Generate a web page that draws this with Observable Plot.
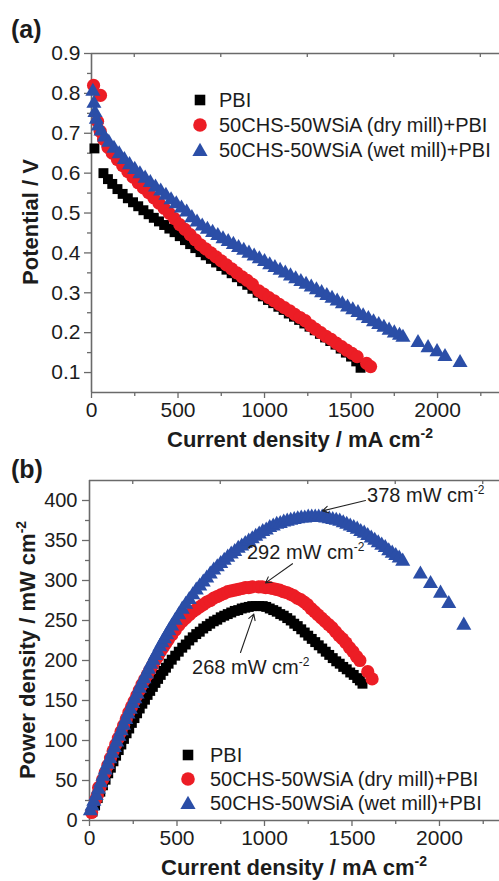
<!DOCTYPE html>
<html><head><meta charset="utf-8">
<script src="https://cdn.jsdelivr.net/npm/d3@7"></script>
<script src="https://cdn.jsdelivr.net/npm/@observablehq/plot@0.6"></script>
<style>
body{margin:0;background:#fff;}
#wrap{width:499px;height:881px;overflow:hidden;background:#fff;}
#wrap svg{display:block;}
</style></head><body><div id="wrap"></div>
<script>
// ---------- data ----------
const seriesNames = ["PBI", "50CHS-50WSiA (dry mill)+PBI", "50CHS-50WSiA (wet mill)+PBI"];
const seriesColors = ["#000000", "#ec1d25", "#2b4ea7"];
const seriesSymbols = ["square", "circle", "triangle"];

// panel (a): polarization curves (current density mA cm-2, potential V)
const pbiCurrentA = [17,69,95,120,150,180,210,240,270,300,330,360,390,420,450,480,510,540,570,600,630,660,690,720,750,780,810,840,870,900,930,960,990,1020,1050,1080,1110,1140,1170,1200,1230,1260,1290,1320,1350,1380,1410,1440,1470,1500,1530,1555];
const pbiVoltage = [0.662,0.600,0.585,0.573,0.560,0.548,0.537,0.527,0.517,0.507,0.497,0.488,0.479,0.470,0.461,0.452,0.442,0.432,0.422,0.412,0.402,0.394,0.385,0.376,0.367,0.358,0.349,0.339,0.329,0.320,0.310,0.300,0.291,0.282,0.274,0.265,0.257,0.248,0.240,0.232,0.223,0.215,0.206,0.197,0.188,0.179,0.170,0.160,0.150,0.140,0.128,0.112];

const dryCurrentA = [12,52,35,50,70,95,120,150,180,210,240,270,300,330,360,390,420,450,480,510,540,570,600,630,660,690,720,750,780,810,840,870,900,930,967,995,1025,1055,1085,1115,1145,1175,1205,1235,1266,1295,1325,1355,1385,1415,1445,1475,1505,1535,1590,1613];
const dryVoltage = [0.820,0.795,0.730,0.705,0.685,0.665,0.650,0.634,0.619,0.604,0.590,0.576,0.563,0.551,0.538,0.525,0.512,0.499,0.486,0.471,0.459,0.446,0.433,0.420,0.410,0.400,0.390,0.380,0.370,0.360,0.350,0.340,0.331,0.321,0.305,0.297,0.288,0.280,0.271,0.263,0.255,0.246,0.238,0.230,0.218,0.209,0.200,0.191,0.183,0.174,0.165,0.156,0.148,0.140,0.123,0.115];

const wetCurrentA = [8,14,20,28,40,55,75,100,130,160,190,220,250,280,310,340,370,400,430,460,490,520,550,580,610,640,670,700,730,760,790,820,850,880,910,940,970,1000,1030,1060,1090,1120,1150,1180,1210,1240,1270,1300,1330,1360,1390,1420,1450,1480,1510,1540,1570,1600,1630,1660,1690,1720,1750,1780,1800,1887,1945,1997,2043,2130];
const wetVoltage = [0.805,0.775,0.752,0.735,0.718,0.705,0.690,0.677,0.662,0.648,0.634,0.621,0.609,0.598,0.587,0.576,0.565,0.555,0.544,0.533,0.523,0.512,0.502,0.488,0.477,0.467,0.459,0.451,0.443,0.435,0.428,0.421,0.413,0.406,0.399,0.392,0.385,0.378,0.370,0.363,0.356,0.349,0.342,0.335,0.328,0.321,0.314,0.307,0.300,0.293,0.286,0.279,0.272,0.264,0.257,0.250,0.242,0.235,0.227,0.220,0.213,0.206,0.199,0.193,0.188,0.175,0.162,0.152,0.140,0.125];

// panel (b): power density curves (current density mA cm-2, power mW cm-2)
const pbiCurrentB = [17,32,47,62,77,92,107,122,137,152,167,182,197,212,227,242,257,272,287,302,317,332,347,362,377,392,407,422,437,452,470,490,510,530,550,570,590,610,630,650,670,690,710,730,750,770,790,810,830,850,870,890,910,930,950,970,990,1010,1030,1050,1070,1090,1110,1130,1150,1170,1190,1210,1230,1250,1270,1290,1310,1330,1350,1370,1390,1410,1430,1450,1470,1490,1510,1530,1545,1560];
const pbiPower = [11,19,28,36,44,51,59,66,74,81,88,95,102,109,115,122,128,134,140,146,151,157,162,167,172,177,182,187,191,196,201,206,211,216,220,225,229,233,236,240,243,246,249,251,254,256,258,260,262,263,265,266,267,268,268,268,268,267,265,263,261,258,256,253,250,246,243,239,235,231,227,223,219,215,211,207,203,199,196,192,189,185,182,178,175,171];

const dryCurrentB = [12,52,35,45,60,75,90,105,120,135,150,165,180,195,210,225,240,255,270,285,300,315,330,345,360,375,390,405,420,435,450,470,490,510,530,550,570,590,610,630,650,670,690,710,730,750,770,790,810,830,850,870,890,910,930,967,987,1007,1027,1047,1067,1087,1107,1127,1147,1167,1187,1207,1227,1245,1266,1286,1306,1326,1346,1366,1386,1406,1426,1446,1466,1486,1506,1526,1545,1590,1615];
const dryPower = [10,41,26,32,42,51,60,69,78,87,95,103,111,119,127,135,142,149,156,163,170,176,182,188,194,200,205,211,216,221,226,232,238,244,249,253,257,261,264,267,270,273,275,278,280,282,284,286,287,288,289,290,291,291,292,292,292,291,291,290,289,288,286,285,283,281,278,276,273,270,265,261,257,253,249,245,241,236,231,227,222,216,211,205,200,186,177];

const wetCurrentB = [5,15,25,38,51,64,77,90,103,116,129,142,155,168,181,194,207,220,233,246,259,272,285,298,311,324,337,350,363,376,389,402,415,428,441,454,470,490,510,530,550,570,590,610,630,650,670,690,710,730,750,770,790,810,830,850,870,890,910,930,950,970,990,1010,1030,1050,1070,1090,1110,1130,1150,1170,1190,1210,1230,1250,1270,1290,1310,1330,1350,1370,1390,1410,1430,1450,1470,1490,1510,1530,1550,1570,1590,1610,1630,1650,1670,1690,1710,1730,1750,1770,1790,1891,1949,2006,2053,2139];
const wetPower = [12,18,24,31,39,47,55,63,70,77,84,91,98,105,112,119,126,133,139,146,152,158,165,171,177,183,189,195,200,206,211,217,222,227,232,237,243,250,257,264,270,276,282,288,293,298,303,308,313,317,321,325,329,333,336,340,343,346,349,352,355,358,361,363,366,368,370,371,373,374,375,376,377,378,378,379,379,379,379,379,378,377,376,375,374,372,370,368,366,364,361,359,356,353,350,347,344,341,337,334,331,328,324,308,296,284,271,244];

// ticks
const currentMajorTicks = [0, 500, 1000, 1500, 2000];
const currentMinorTicks = [250, 750, 1250, 1750, 2250];
const potentialMajorTicks = [0.1, 0.2, 0.3, 0.4, 0.5, 0.6, 0.7, 0.8, 0.9];
const potentialMinorTicks = [0.15, 0.25, 0.35, 0.45, 0.55, 0.65, 0.75, 0.85];
const powerMajorTicks = [0, 50, 100, 150, 200, 250, 300, 350, 400];
const powerMinorTicks = [25, 75, 125, 175, 225, 275, 325, 375];

// peak annotations (panel b)
const peakValues = ["378", "292", "268"];
const peakLabelCurrent = [1589, 903, 589];
const peakLabelPower = [406, 335, 191];
const peakArrowFromCurrent = [1577, 1160, 863];
const peakArrowFromPower = [400, 321, 210];
const peakArrowToCurrent = [1331, 1006, 939];
const peakArrowToPower = [387, 297, 258];

// ---------- helpers ----------
const FONT = "'Liberation Sans', Arial, Helvetica, sans-serif";
const AXIS = "#6a6a6a";
const INK = "#1c1c1c";
const dotR = [5.6, 6.6, 5.6];
const d3Symbols = [d3.symbolSquare, d3.symbolCircle, d3.symbolTriangle];

function rows(currents, values) {
  return currents.map((c, j) => ({current: c, value: values[j]}));
}

function seriesMarks(sets) {
  return sets.map((data, i) => Plot.dot(data, {
    x: "current", y: "value", symbol: () => seriesSymbols[i], r: dotR[i],
    fill: seriesColors[i], stroke: "none"
  }));
}

function addLegend(svg, x0, y0, step, textX) {
  const g = d3.select(svg).append("g");
  const sizes = [112, 145, 100];
  seriesNames.forEach((name, i) => {
    const y = y0 + i * step;
    g.append("path")
      .attr("transform", `translate(${x0},${y + (i === 2 ? 1.5 : 0)})`)
      .attr("d", d3.symbol(d3Symbols[i], sizes[i])())
      .attr("fill", seriesColors[i]);
    g.append("text").attr("x", textX).attr("y", y).attr("dy", "0.36em")
      .attr("text-anchor", "start")
      .attr("font-size", 20).attr("font-family", FONT).attr("fill", INK).text(name);
  });
}

function addSupText(sel, x, y, main, sup, size, anchor, rotate, weight) {
  const t = sel.append("text")
    .attr("font-family", FONT).attr("font-size", size).attr("fill", INK)
    .attr("font-weight", weight || "normal")
    .attr("text-anchor", anchor || "start");
  if (rotate) t.attr("transform", `translate(${x},${y}) rotate(-90)`);
  else t.attr("x", x).attr("y", y);
  t.append("tspan").text(main);
  if (sup) {
    t.append("tspan").attr("font-size", Math.round(size * 0.62)).attr("dy", -size * 0.42).text(sup);
  }
  return t;
}

function addTopTicks(svg, plot, ticks, yTop) {
  const sx = plot.scale("x");
  const g = d3.select(svg).append("g").attr("stroke", AXIS).attr("stroke-width", 1.3);
  ticks.forEach(t => {
    const x = sx.apply(t);
    g.append("line").attr("x1", x).attr("x2", x).attr("y1", yTop).attr("y2", yTop + 4);
  });
}

function frameMarks(xDom, yDom, xMajor, xMinor, yMajor, yMinor, yFmt, yFont, yTick, yPad) {
  return [
    Plot.ruleX([xDom[0]], {stroke: AXIS, strokeWidth: 1.6}),
    Plot.ruleY([yDom[0]], {stroke: AXIS, strokeWidth: 1.6}),
    Plot.ruleY([yDom[1]], {stroke: AXIS, strokeWidth: 1.6}),
    Plot.axisX({ticks: xMajor, tickSize: 6, tickPadding: 4, fontSize: 21, stroke: AXIS, fill: INK, strokeWidth: 1.3, label: null, tickFormat: d => String(d)}),
    Plot.axisX({ticks: xMinor, tickSize: 4, stroke: AXIS, strokeWidth: 1.3, label: null, tickFormat: () => ""}),
    Plot.axisY({ticks: yMajor, tickSize: yTick, tickPadding: yPad, fontSize: yFont, stroke: AXIS, fill: INK, strokeWidth: 1.3, label: null, tickFormat: yFmt}),
    Plot.axisY({ticks: yMinor, tickSize: 4, stroke: AXIS, strokeWidth: 1.3, label: null, tickFormat: () => ""})
  ];
}

function addPanelTag(sel, y, tag) {
  sel.append("text").attr("x", 11).attr("y", y).attr("text-anchor", "start")
    .attr("font-family", FONT).attr("font-size", 25)
    .attr("font-weight", "bold").attr("fill", INK).text(tag);
}

const wrap = document.getElementById("wrap");

// ---------- panel (a) ----------
const xDomA = [0, 2358], yDomA = [0.05, 0.9];
const setsA = [rows(pbiCurrentA, pbiVoltage), rows(dryCurrentA, dryVoltage), rows(wetCurrentA, wetVoltage)];
const figA = Plot.plot({
  width: 499, height: 455, marginTop: 53, marginBottom: 63, marginLeft: 91, marginRight: 0,
  style: {fontFamily: FONT, fontSize: "21px", color: INK, background: "#fff", overflow: "hidden"},
  x: {domain: xDomA}, y: {domain: yDomA},
  marks: [
    ...frameMarks(xDomA, yDomA, currentMajorTicks, currentMinorTicks, potentialMajorTicks, potentialMinorTicks, d3.format(".1f"), 21, 7, 4),
    ...seriesMarks(setsA)
  ]
});
wrap.appendChild(figA);
addTopTicks(figA, figA, currentMinorTicks, 53);
addLegend(figA, 200, 100, 25, 219);
{
  const s = d3.select(figA);
  addPanelTag(s, 38, "(a)");
  addSupText(s, 300, 447, "Current density / mA cm", "-2", 22, "middle", false, "bold");
  addSupText(s, 38, 222, "Potential / V", null, 22, "middle", true, "bold");
}

// ---------- panel (b) ----------
const xDomB = [0, 2343], yDomB = [0, 425];
const setsB = [rows(pbiCurrentB, pbiPower), rows(dryCurrentB, dryPower), rows(wetCurrentB, wetPower)];
const arrows = peakValues.map((v, i) => ({
  x1: peakArrowFromCurrent[i], y1: peakArrowFromPower[i],
  x2: peakArrowToCurrent[i], y2: peakArrowToPower[i]
}));
const figB = Plot.plot({
  width: 499, height: 426, marginTop: 25, marginBottom: 61, marginLeft: 89, marginRight: 0,
  style: {fontFamily: FONT, fontSize: "21px", color: INK, background: "#fff", overflow: "hidden"},
  x: {domain: xDomB}, y: {domain: yDomB},
  marks: [
    ...frameMarks(xDomB, yDomB, currentMajorTicks, currentMinorTicks, powerMajorTicks, powerMinorTicks, d => String(d), 20, 7, 5),
    ...seriesMarks(setsB),
    Plot.arrow(arrows, {x1: "x1", y1: "y1", x2: "x2", y2: "y2", stroke: "#222", strokeWidth: 1.1, headLength: 9})
  ]
});
wrap.appendChild(figB);
addTopTicks(figB, figB, currentMinorTicks, 25);
addLegend(figB, 188, 300, 24, 210);
{
  const s = d3.select(figB);
  const sx = figB.scale("x"), sy = figB.scale("y");
  addPanelTag(s, 23, "(b)");
  addSupText(s, 294, 420, "Current density / mA cm", "-2", 22, "middle", false, "bold");
  addSupText(s, 35, 195, "Power density / mW cm", "-2", 22, "middle", true, "bold");
  peakValues.forEach((v, i) => {
    addSupText(s, sx.apply(peakLabelCurrent[i]), sy.apply(peakLabelPower[i]) + 7, v + " mW cm", "-2", 20, "start", false, "normal");
  });
}
</script></body></html>
